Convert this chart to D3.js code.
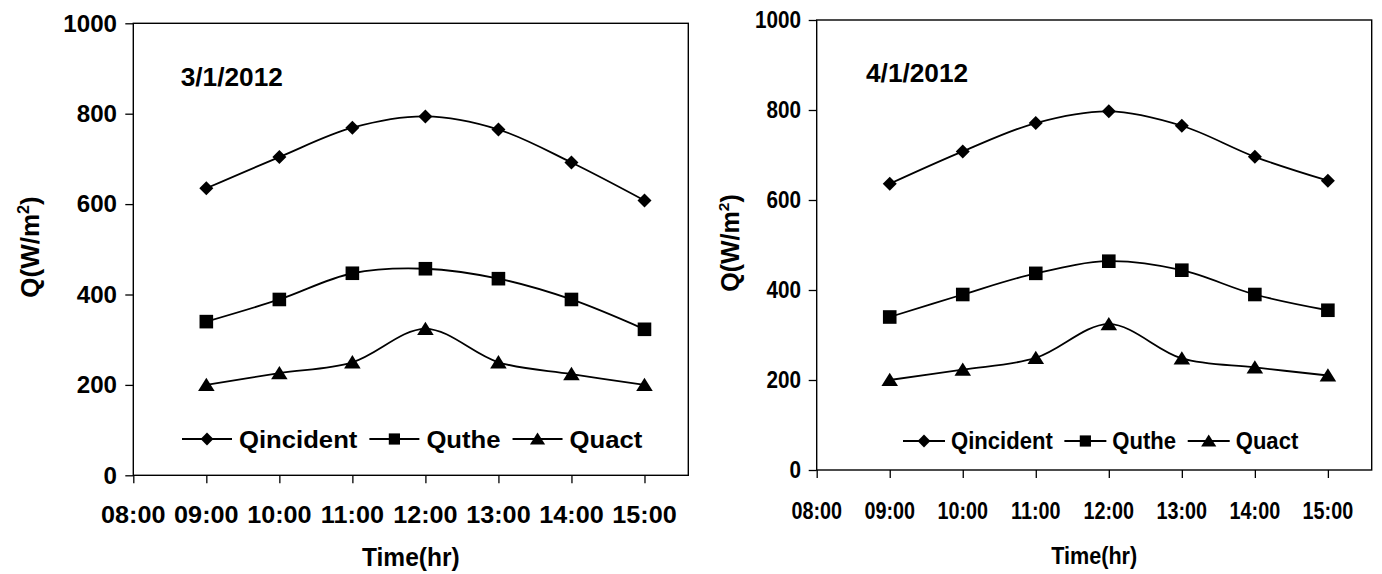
<!DOCTYPE html>
<html><head><meta charset="utf-8">
<script src="https://cdn.jsdelivr.net/npm/d3@7"></script>
<style>
html,body{margin:0;padding:0;background:#fff;}
svg{display:block;font-family:"Liberation Sans",Arial,sans-serif;font-weight:bold;}
</style></head>
<body><svg id="c" width="1382" height="574"></svg>
<script>
// ---- data ----
const hours = [9, 10, 11, 12, 13, 14, 15];
const xTickHours = [8, 9, 10, 11, 12, 13, 14, 15];
const yTicks = [0, 200, 400, 600, 800, 1000];
const seriesNames = ["Qincident", "Quthe", "Quact"];
const dateTitles = ["3/1/2012", "4/1/2012"];
const qIncident1 = [635, 704, 769, 794, 765, 692, 608];
const quthe1     = [340, 389, 447, 457, 435, 389, 323];
const quact1     = [200, 226, 250, 324, 250, 224, 200];
const qIncident2 = [636, 708, 771, 797, 765, 696, 643];
const quthe2     = [340, 390, 437, 464, 444, 390, 355];
const quact2     = [200, 223, 249, 324, 248, 228, 210];
const xTitle = "Time(hr)";

const chartSeries = [[qIncident1, quthe1, quact1], [qIncident2, quthe2, quact2]];

// ---- layout ----
const layouts = [
  {left:133.3, right:688.3, top:23.3, bottom:475.3,
   yLabEnd:117, yFs:23, ySx:1.05,
   xFs:24, xSx:1.05, xBase:523, tFs:25, tSx:1.05, tX:180.7, tY:86,
   yTitleX:39, yTitleY:247, yTitleFs:26,
   xTitleY:566, xTitleFs:25, xTitleSx:0.98,
   legY:439, legX:182, legL:50, legG1:7, legG2:12, legFs:24, legSx:1.07},
  {left:816.7, right:1371.7, top:20, bottom:470,
   yLabEnd:801, yFs:23, ySx:0.9,
   xFs:23, xSx:0.86, xBase:519, tFs:25, tSx:1.05, tX:866, tY:82,
   yTitleX:739, yTitleY:243, yTitleFs:25,
   xTitleY:564, xTitleFs:24, xTitleSx:0.9,
   legY:441, legX:903, legL:42, legG1:6, legG2:11.6, legFs:23, legSx:0.96}
];

const svg = d3.select("#c");

function marker(g, type, cx, cy, s) {
  let p;
  if (type === 0) p = `M${cx},${cy-s}L${cx+s},${cy}L${cx},${cy+s}L${cx-s},${cy}Z`;
  else if (type === 1) p = `M${cx-s},${cy-s}h${s*2}v${s*2}h${-s*2}Z`;
  else p = `M${cx},${cy-s}L${cx+s*1.15},${cy+s*0.85}L${cx-s*1.15},${cy+s*0.85}Z`;
  g.append("path").attr("d", p).attr("fill", "#000");
}

function stext(g, x, y, str, fs, sx, anchor) {
  return g.append("text")
    .attr("transform", `translate(${x},${y}) scale(${sx},1)`)
    .attr("text-anchor", anchor).attr("font-size", fs).attr("fill", "#000").text(str);
}

layouts.forEach((L, ci) => {
  const g = svg.append("g");
  const x = d3.scaleLinear().domain([8, 15.6]).range([L.left, L.right]);
  const y = d3.scaleLinear().domain([0, 1000]).range([L.bottom, L.top]);

  g.append("rect").attr("x", L.left).attr("y", L.top)
    .attr("width", L.right - L.left).attr("height", L.bottom - L.top)
    .attr("fill", "none").attr("stroke", "#000").attr("stroke-width", 1.4);

  const ya = g.append("g").attr("transform", `translate(${L.left},0)`)
    .call(d3.axisLeft(y).tickValues(yTicks).tickSize(8).tickFormat(""));
  const xa = g.append("g").attr("transform", `translate(0,${L.bottom})`)
    .call(d3.axisBottom(x).tickValues(xTickHours).tickSize(8).tickFormat(""));
  [ya, xa].forEach(a => { a.select(".domain").remove(); a.selectAll("line").attr("stroke", "#000").attr("stroke-width", 1.3); });

  yTicks.forEach(v => stext(g, L.yLabEnd, y(v) + 0.358 * L.yFs, String(v), L.yFs, L.ySx, "end"));
  xTickHours.forEach(h => stext(g, x(h), L.xBase, (h < 10 ? "0" : "") + h + ":00", L.xFs, L.xSx, "middle"));

  stext(g, L.tX, L.tY, dateTitles[ci], L.tFs, L.tSx, "start");
  stext(g, (L.left + L.right) / 2, L.xTitleY, xTitle, L.xTitleFs, L.xTitleSx, "middle");
  const yt = g.append("text").attr("transform", `translate(${L.yTitleX},${L.yTitleY}) rotate(-90)`)
    .attr("text-anchor", "middle").attr("font-size", L.yTitleFs).attr("fill", "#000");
  yt.append("tspan").text("Q(W/m");
  yt.append("tspan").attr("font-size", L.yTitleFs * 0.62).attr("dy", -L.yTitleFs * 0.4).text("2");
  yt.append("tspan").attr("dy", L.yTitleFs * 0.4).text(")");

  const line = d3.line().x((d, i) => x(hours[i])).y(d => y(d)).curve(d3.curveCatmullRom.alpha(0.5));
  const sizes = [7, 6.8, 7.2];
  chartSeries[ci].forEach((vals, si) => {
    g.append("path").attr("d", line(vals)).attr("fill", "none").attr("stroke", "#000").attr("stroke-width", 1.8);
    vals.forEach((v, i) => marker(g, si, x(hours[i]), y(v), sizes[si]));
  });

  let lx = L.legX;
  const lsz = [6.4, 5.6, 6.6];
  seriesNames.forEach((name, si) => {
    g.append("line").attr("x1", lx).attr("x2", lx + L.legL).attr("y1", L.legY).attr("y2", L.legY)
      .attr("stroke", "#000").attr("stroke-width", 1.8);
    marker(g, si, lx + L.legL / 2, L.legY, lsz[si]);
    const t = stext(g, lx + L.legL + L.legG1, L.legY + 0.358 * L.legFs, name, L.legFs, L.legSx, "start");
    const w = t.node().getComputedTextLength() * L.legSx;
    lx = lx + L.legL + L.legG1 + w + L.legG2;
  });
});
</script></body></html>
